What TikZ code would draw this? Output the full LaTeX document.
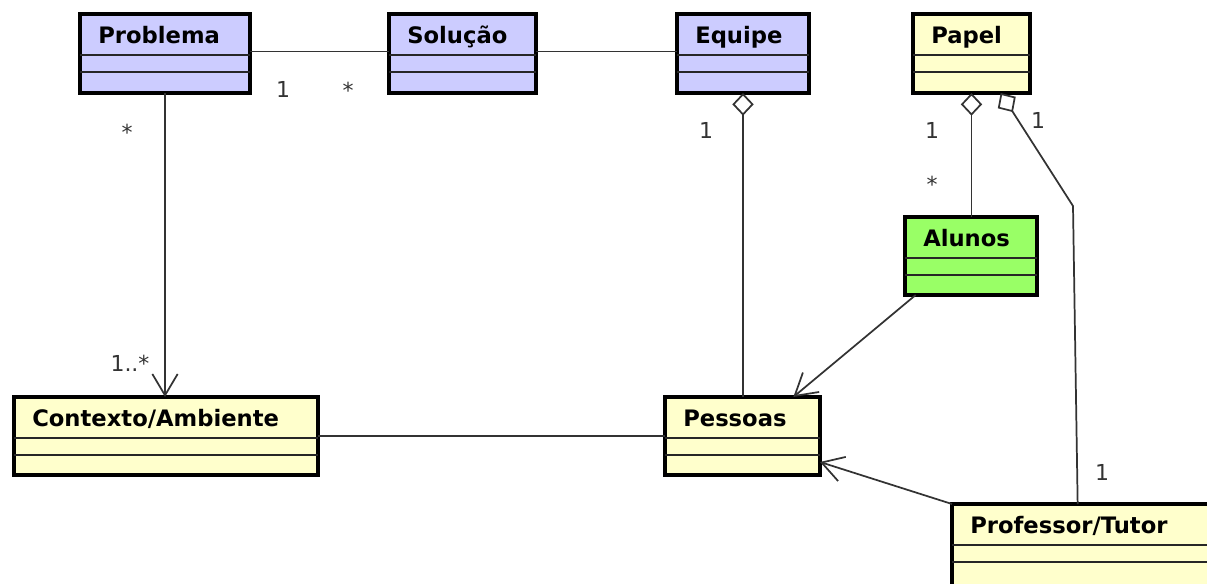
\documentclass[tikz,border=0pt]{standalone}
\usepackage{fontspec}
\setmainfont{DejaVu Sans}
\usepackage{tikz}
\usetikzlibrary{arrows.meta}
\usetikzlibrary{calc}
\usetikzlibrary{positioning}

\definecolor{umlblue}{RGB}{204,204,255}
\definecolor{umlyellow}{RGB}{255,255,204}
\definecolor{umlgreen}{RGB}{153,255,102}
\definecolor{linegray}{RGB}{51,51,51}

\tikzset{
    umlclass/.style = {draw=black, line width=2.6pt, outer sep=0pt, inner sep=0pt},
    classname/.style = {font=\fontsize{17}{20}\selectfont\bfseries, inner sep=0pt, anchor=base west},
    classsep/.style = {draw=black!85, line width=1.1pt},
    assoc/.style = {draw=linegray, line width=1.3pt},
    navig/.style = {assoc, -{Straight Barb[length=16pt, width=19pt]}},
    aggreg/.style = {assoc, {Diamond[fill=white, length=17pt, width=16pt]}-},
    mult/.style = {font=\fontsize{16.5}{19}\selectfont, text=linegray, inner sep=0pt, anchor=base}
}

\begin{document}
\begin{tikzpicture}[x=0.75pt, y=-0.75pt]
    \useasboundingbox (0,0) rectangle (1207,583);
    % classes
    \foreach \nm/\px/\py/\pw/\ph/\col/\txt in {
        prob/80/14/170/79/umlblue/Problema,
        sol/389/14/147/79/umlblue/Solução,
        equipe/677/14/132/79/umlblue/Equipe,
        papel/913/14/117/79/umlyellow/Papel,
        alunos/905/217/132/78/umlgreen/Alunos,
        ctx/14/397/304/78/umlyellow/{Contexto/Ambiente},
        pess/665/397/155/78/umlyellow/Pessoas,
        prof/952/504/262/84/umlyellow/{Professor/Tutor}} {
        \node[umlclass, fill=\col, minimum width=\pw*0.75pt, minimum height=\ph*0.75pt, anchor=north west] (\nm) at (\px,\py) {};
        \node[classname] (\nm-name) at ($(\nm.north west)+(18,29.5)$) {\txt};
        \draw[classsep] ($(\nm.north west)+(0,41)$) -- ($(\nm.north east)+(0,41)$);
        \draw[classsep] ($(\nm.north west)+(0,58)$) -- ($(\nm.north east)+(0,58)$);
    }

    % associations
    \draw[assoc] ([yshift=1.5pt]prob.east) -- ([yshift=1.5pt]sol.west);
    \draw[assoc] ([yshift=1.5pt]sol.east) -- ([yshift=1.5pt]equipe.west);
    \draw[navig] (prob.south) -- (prob.south |- ctx.north);
    \draw[assoc] (ctx.east) -- (pess.west);
    \draw[aggreg] (equipe.south) -- (equipe.south |- pess.north);
    \draw[aggreg] (papel.south) -- (papel.south |- alunos.north);
    \coordinate (bend) at (1073,206);
    \draw[aggreg] ([xshift=-22pt]papel.south east) -- (bend) -- ([xshift=-4pt]prof.north);
    \draw[navig] ([xshift=8pt]alunos.south west) -- ([xshift=-20pt]pess.north east);
    \draw[navig] (prof.north west) -- ([yshift=-19.5pt]pess.east);

    % multiplicities
    \node[mult] (m-prob-sol) at (283,97) {1};
    \node[mult] (m-sol-prob) at (348,98) {*};
    \node[mult] (m-prob-ctx) at (127,140) {*};
    \node[mult] (m-ctx-prob) at (130,371) {1..*};
    \node[mult] (m-equipe) at (706,138) {1};
    \node[mult] (m-papel-al) at (932,138) {1};
    \node[mult] (m-alunos) at (932,192) {*};
    \node[mult] (m-papel-prof) at (1038,128) {1};
    \node[mult] (m-prof) at (1102,480) {1};
\end{tikzpicture}
\end{document}
